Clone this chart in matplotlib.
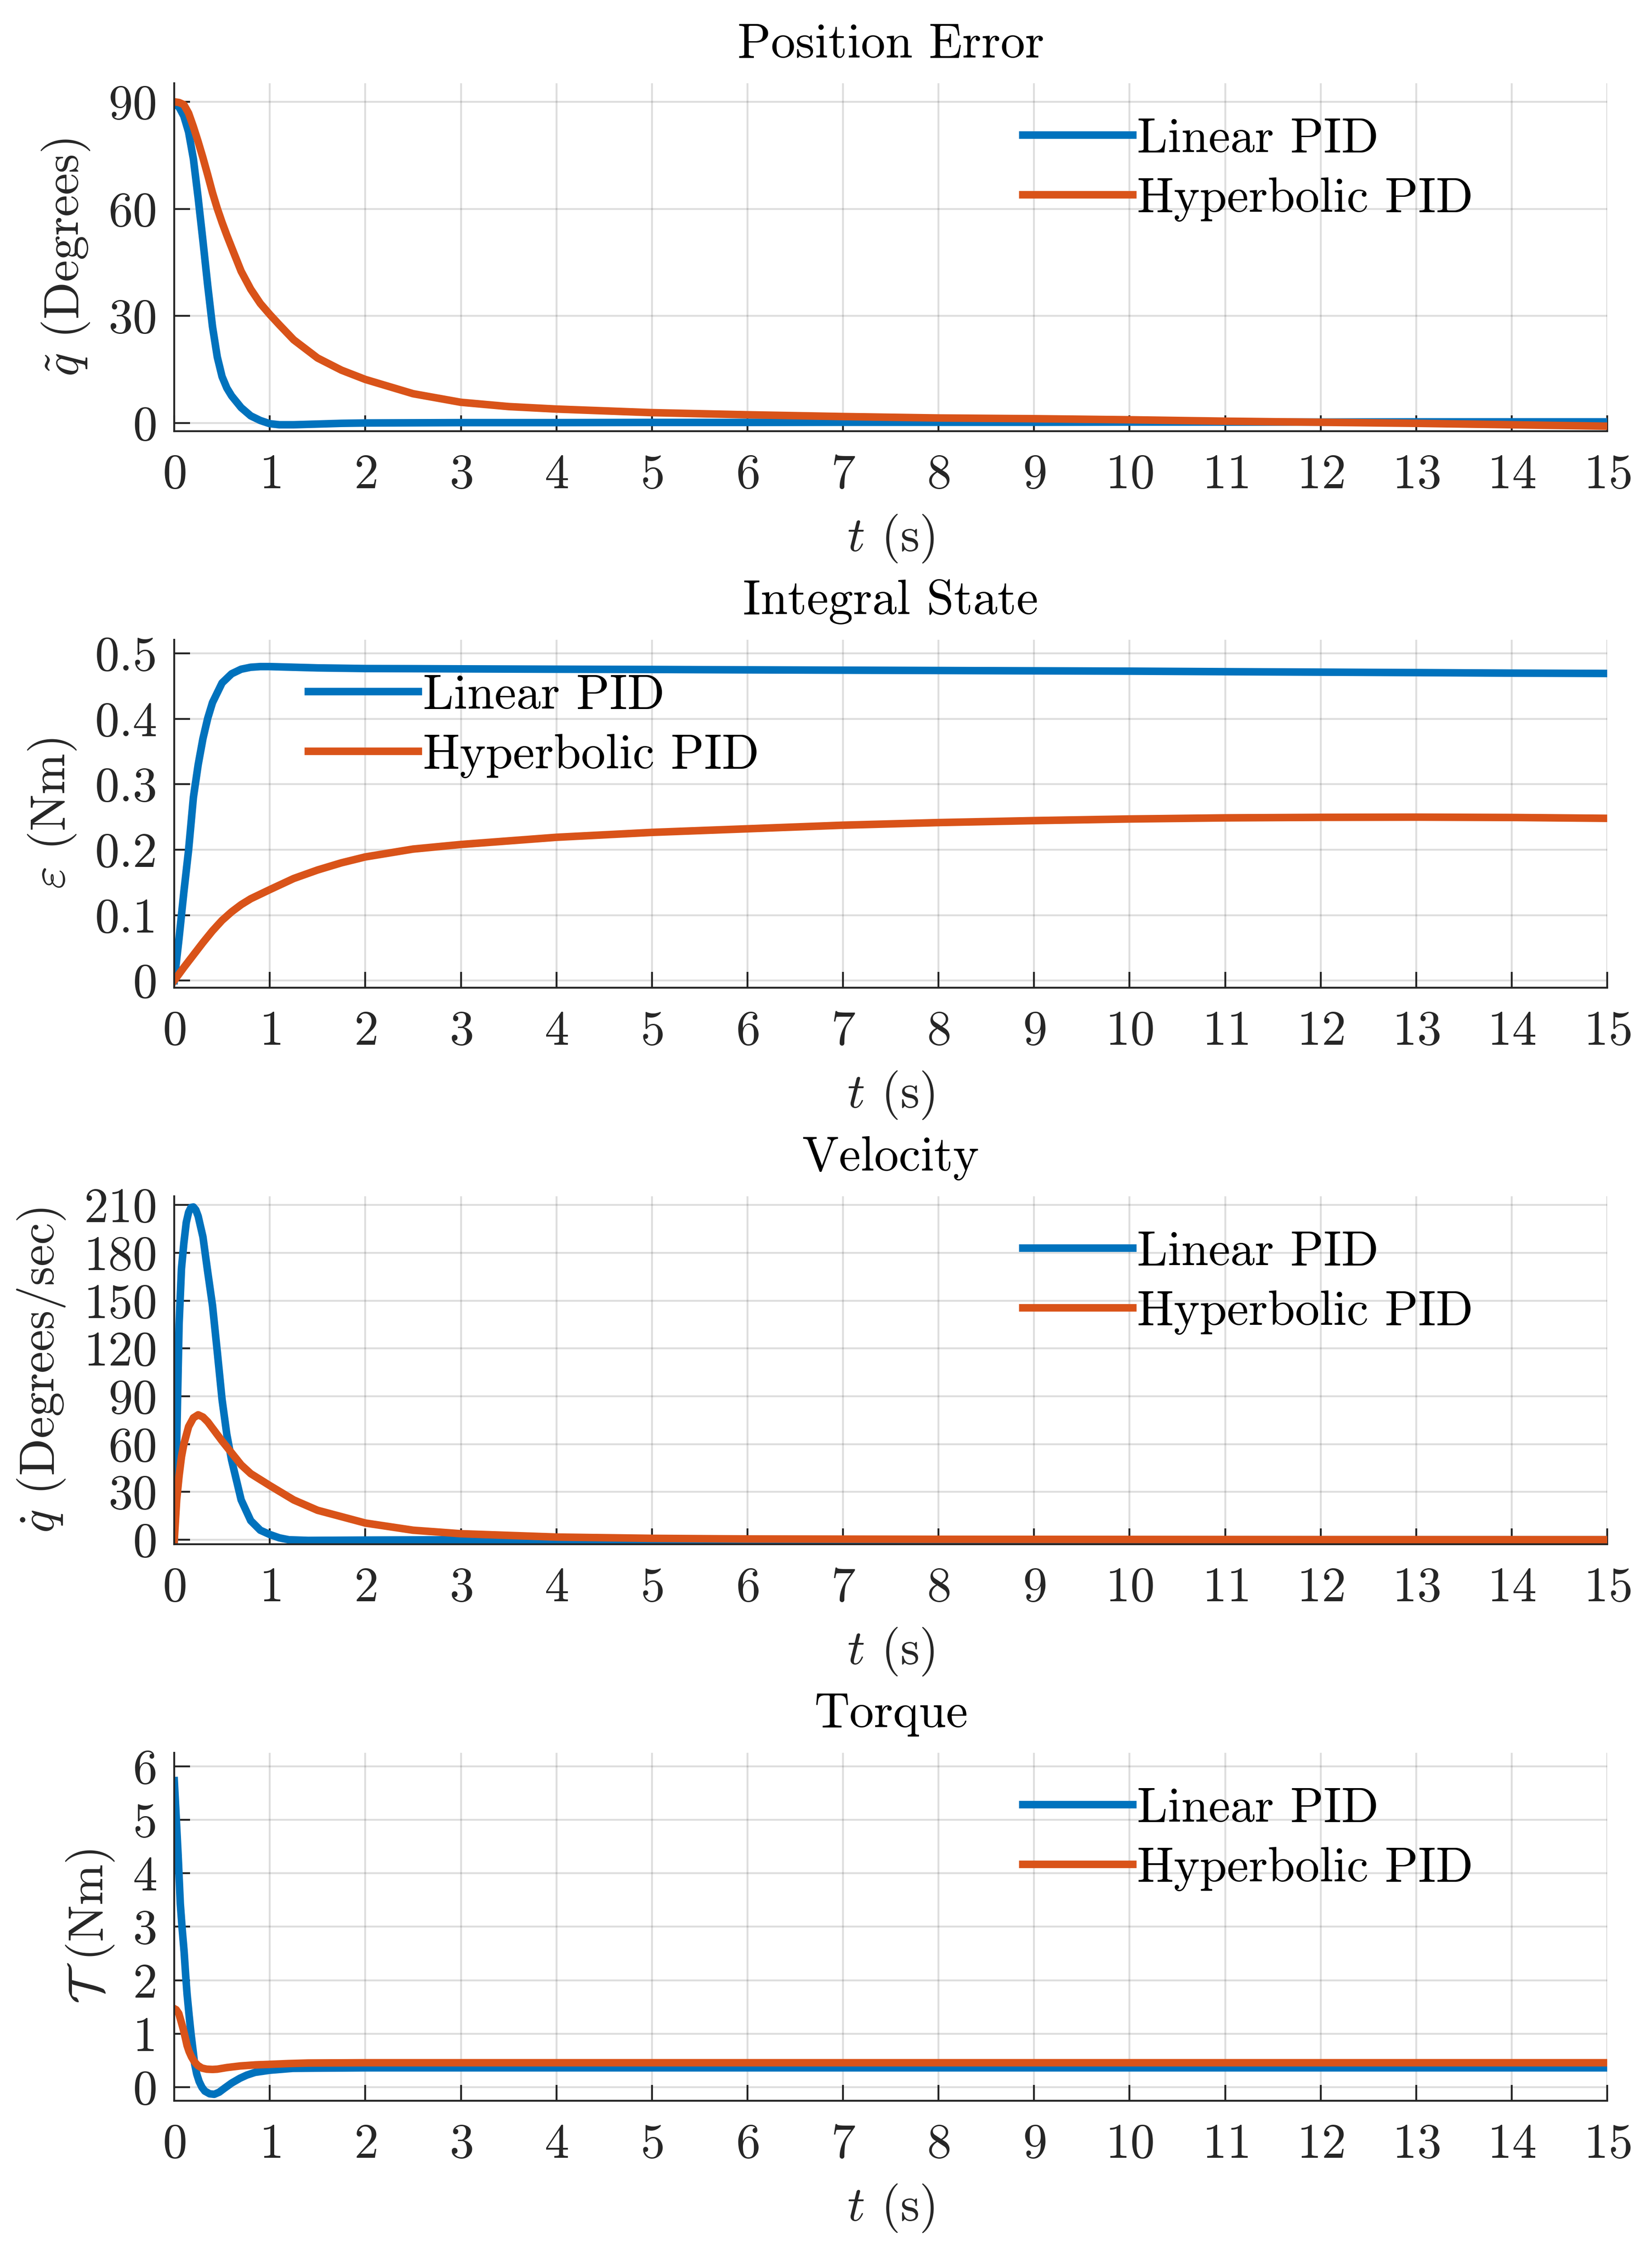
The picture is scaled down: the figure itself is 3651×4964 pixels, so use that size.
import matplotlib
matplotlib.use('Agg')
import matplotlib.pyplot as plt

plt.rcParams['font.family'] = 'cmr10'
plt.rcParams['mathtext.fontset'] = 'cm'
plt.rcParams['axes.formatter.use_mathtext'] = True
plt.rcParams['font.size'] = 26

c_lin = '#0072BD'
c_hyp = '#D95319'
c_ax = '#262626'

# Position error (degrees)
t_pos_lin = [0, 0.05, 0.1, 0.15, 0.2, 0.25, 0.3, 0.35, 0.4, 0.45, 0.5, 0.55, 0.6, 0.7, 0.8,
             0.9, 1.0, 1.1, 1.25, 1.5, 1.75, 2.0, 2.5, 3, 4, 5, 6, 7, 8, 9, 10, 11, 12,
             13, 14, 15]
pos_lin = [89.5, 88.5, 86, 81.5, 74, 63, 51, 38.5, 27, 18.5, 13, 9.8, 7.6, 4.3, 2.0,
           0.7, -0.2, -0.5, -0.5, -0.3, -0.1, 0.0, 0.05, 0.1, 0.1, 0.15, 0.15, 0.2, 0.2,
           0.2, 0.25, 0.25, 0.25, 0.3, 0.3, 0.3]
t_pos_hyp = [0, 0.05, 0.1, 0.15, 0.2, 0.25, 0.3, 0.35, 0.4, 0.45, 0.5, 0.55, 0.6, 0.7,
             0.8, 0.9, 1.0, 1.1, 1.25, 1.5, 1.75, 2.0, 2.5, 3, 3.5, 4, 5, 6, 7, 8, 9, 10,
             11, 12, 13, 14, 15]
pos_hyp = [90, 89.8, 89.2, 86.8, 83, 78.8, 74.3, 69.5, 64.5, 60.1, 56.2, 52.6, 49.2,
           42.5, 37.5, 33.5, 30.4, 27.5, 23.3, 18.2, 14.8, 12.2, 8.2, 5.8, 4.6, 3.9, 2.9,
           2.3, 1.8, 1.4, 1.2, 0.9, 0.5, 0.2, -0.1, -0.5, -0.9]

# Integral state (Nm)
t_int_lin = [0, 0.05, 0.1, 0.15, 0.2, 0.25, 0.3, 0.35, 0.4, 0.5, 0.6, 0.7, 0.8, 0.9, 1.0,
             1.25, 1.5, 2, 2.5, 3, 4, 5, 6, 7, 8, 9, 10, 11, 12, 13, 14, 15]
int_lin = [0, 0.065, 0.135, 0.2, 0.28, 0.33, 0.37, 0.401, 0.425, 0.455, 0.469, 0.476,
           0.479, 0.480, 0.480, 0.479, 0.478, 0.477, 0.4768, 0.4765, 0.476, 0.4756,
           0.475, 0.4745, 0.474, 0.4735, 0.473, 0.4722, 0.4715, 0.4708, 0.470, 0.4695]
t_int_hyp = [0, 0.1, 0.2, 0.3, 0.4, 0.5, 0.6, 0.7, 0.8, 0.9, 1.0, 1.25, 1.5, 1.75, 2,
             2.5, 3, 4, 5, 6, 7, 8, 9, 10, 11, 12, 13, 14, 15]
int_hyp = [0, 0.02, 0.039, 0.058, 0.076, 0.092, 0.105, 0.116, 0.125, 0.132, 0.139, 0.156,
           0.169, 0.180, 0.189, 0.201, 0.208, 0.219, 0.2265, 0.232, 0.2375, 0.2415,
           0.2445, 0.247, 0.2487, 0.2495, 0.2498, 0.2493, 0.248]

# Velocity (degrees/sec)
t_vel_lin = [0, 0.025, 0.05, 0.075, 0.1, 0.125, 0.15, 0.175, 0.2, 0.225, 0.25, 0.3, 0.35,
             0.4, 0.45, 0.5, 0.55, 0.6, 0.7, 0.8, 0.9, 1.0, 1.1, 1.2, 1.4, 1.7, 2, 3, 4,
             5, 6, 8, 10, 12, 15]
vel_lin = [0, 61, 135, 170, 186, 199, 205.5, 208.5, 208.8, 207, 203, 190, 168, 147, 118,
           88, 66, 50, 25, 12, 6, 3.3, 1.2, 0, -0.4, -0.3, -0.2, 0, 0, 0, 0, 0, 0, 0, 0]
t_vel_hyp = [0, 0.025, 0.05, 0.075, 0.1, 0.15, 0.2, 0.25, 0.3, 0.35, 0.4, 0.5, 0.6, 0.7,
             0.8, 1.0, 1.25, 1.5, 2, 2.5, 3, 4, 5, 6, 8, 10, 12, 15]
vel_hyp = [0, 25, 40, 52, 60, 71, 76.5, 78.4, 77, 74, 70, 62, 54.5, 47, 41.5, 34, 25,
           18.5, 10.5, 6, 3.8, 1.7, 0.9, 0.5, 0.3, 0.2, 0.1, 0.05]

# Torque (Nm)
t_tau_lin = [0, 0.02, 0.04, 0.063, 0.083, 0.103, 0.12, 0.134, 0.155, 0.174, 0.195, 0.213,
             0.235, 0.26, 0.29, 0.32, 0.37, 0.418, 0.47, 0.53, 0.6, 0.687, 0.76, 0.845,
             1.0, 1.24, 1.55, 2, 3, 5, 10, 15]
tau_lin = [5.73, 5.05, 4.34, 3.43, 2.95, 2.53, 2.07, 1.74, 1.35, 1.02, 0.71, 0.44, 0.25,
           0.11, 0.0, -0.07, -0.12, -0.13, -0.09, -0.01, 0.08, 0.17, 0.23, 0.28, 0.32,
           0.355, 0.36, 0.365, 0.365, 0.365, 0.365, 0.365]
t_tau_hyp = [0, 0.02, 0.047, 0.07, 0.095, 0.115, 0.134, 0.155, 0.18, 0.21, 0.245, 0.29,
             0.34, 0.4, 0.45, 0.55, 0.69, 0.85, 1.0, 1.2, 1.4, 2, 3, 5, 10, 15]
tau_hyp = [1.47, 1.45, 1.38, 1.24, 1.08, 0.93, 0.78, 0.67, 0.57, 0.48, 0.41, 0.36, 0.34,
           0.335, 0.34, 0.37, 0.40, 0.42, 0.43, 0.445, 0.455, 0.46, 0.46, 0.46, 0.46, 0.46]

titles = ['Position Error', 'Integral State', 'Velocity', 'Torque']
ylabels = [r'$\tilde{q}$ (Degrees)', r'$\varepsilon$ (Nm)',
           r'$\dot{q}$ (Degrees/sec)', r'$\mathcal{T}$ (Nm)']
yticks = [[0, 30, 60, 90],
          [0, 0.1, 0.2, 0.3, 0.4, 0.5],
          [0, 30, 60, 90, 120, 150, 180, 210],
          [0, 1, 2, 3, 4, 5, 6]]
ytick_labels = [['0', '30', '60', '90'],
                ['0', '0.1', '0.2', '0.3', '0.4', '0.5'],
                ['0', '30', '60', '90', '120', '150', '180', '210'],
                ['0', '1', '2', '3', '4', '5', '6']]
ylims = [(-2.3, 95.2), (-0.011, 0.521), (-2.8, 215.5), (-0.25, 6.25)]
series = [(t_pos_lin, pos_lin, t_pos_hyp, pos_hyp),
          (t_int_lin, int_lin, t_int_hyp, int_hyp),
          (t_vel_lin, vel_lin, t_vel_hyp, vel_hyp),
          (t_tau_lin, tau_lin, t_tau_hyp, tau_hyp)]
leg_x = [0.592, 0.0935, 0.592, 0.592]
bottoms = [0.80802, 0.56023, 0.31245, 0.06467]

fig = plt.figure(figsize=(3651/300, 4964/300), dpi=300)

for i in range(4):
    ax = fig.add_axes([0.1055, bottoms[i], 0.8674, 0.15492])
    tl, yl, th, yh = series[i]
    ax.plot(tl, yl, color=c_lin, lw=4, label='Linear PID')
    ax.plot(th, yh, color=c_hyp, lw=4, label='Hyperbolic PID')
    ax.set_xlim(0, 15)
    ax.set_ylim(*ylims[i])
    ax.set_xticks(range(16))
    ax.set_yticks(yticks[i])
    ax.set_yticklabels(ytick_labels[i])
    ax.grid(True, color=c_ax, alpha=0.15, linewidth=1.0)
    ax.set_axisbelow(True)
    for s in ['top', 'right']:
        ax.spines[s].set_visible(False)
    for s in ['left', 'bottom']:
        ax.spines[s].set_color(c_ax)
        ax.spines[s].set_linewidth(1.0)
    ax.tick_params(direction='in', length=8.4, width=1.0, colors=c_ax)
    ax.tick_params(axis='y', pad=9)
    ax.tick_params(axis='x', pad=12)
    ax.set_title(titles[i], pad=13.7, fontsize=26)
    ax.set_xlabel(r'$t$ (s)', color=c_ax, labelpad=8)
    ax.set_ylabel(ylabels[i], color=c_ax, labelpad=9)
    ax.legend(loc='center left', bbox_to_anchor=(leg_x[i], 0.7516), frameon=False,
              borderpad=0, borderaxespad=0, handlelength=2.24, handletextpad=0.1,
              labelspacing=0.33)

fig.savefig('out.png', dpi=300)
